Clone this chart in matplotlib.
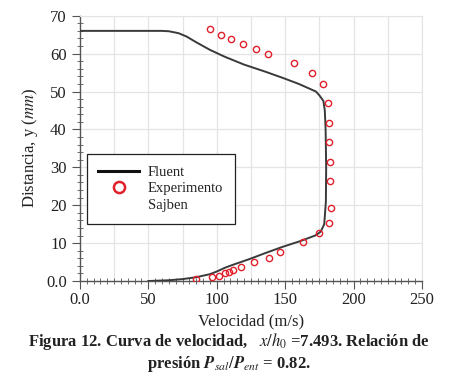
import matplotlib
matplotlib.use("Agg")
import matplotlib.pyplot as plt
from matplotlib.lines import Line2D
from matplotlib.ticker import MultipleLocator, FixedLocator, FixedFormatter

plt.rcParams['font.family'] = ['Liberation Serif', 'DejaVu Serif']
plt.rcParams['mathtext.fontset'] = 'stix'

# Fluent simulation profile (velocity m/s, distance mm)
fluent_v = [50, 65, 75, 85, 95, 100, 106, 112, 124, 135, 148, 160, 172, 176, 178.6,
            179.8, 180, 179.6, 179, 178, 175, 172.5, 160, 149, 135, 120, 105.7, 95,
            85, 78, 72, 65, 60, 0]
fluent_y = [0, 0.2, 0.5, 1.0, 1.8, 2.5, 3.5, 4.3, 5.8, 7.3, 9.0, 10.4, 12.0, 13.0, 15,
            21, 30, 40, 45, 47.5, 49, 50, 52, 53.5, 55.3, 57.1, 59.2, 61, 63, 64.5,
            65.4, 65.9, 66, 66]

# Sajben experiment
exp_v = [85, 96.4, 101.3, 105.7, 109.3, 111.8, 117.8, 127.6, 138, 146.5, 163, 174.9,
         182.2, 183.9, 183, 182.7, 182.2, 182.2, 181.7, 177.8, 169.6, 156.7, 137.8,
         128.8, 119.5, 110.5, 102.8, 95.3]
exp_y = [0.5, 1.0, 1.4, 2.0, 2.5, 2.9, 3.6, 5.1, 6.2, 7.6, 10.2, 12.6, 15.4, 19.3,
         26.4, 31.4, 36.7, 41.8, 47.1, 52.1, 54.8, 57.4, 59.9, 61.1, 62.5, 63.8, 65.0, 66.4]

xticks = [0, 50, 100, 150, 200, 250]
xticklabels = ['0.0', '50', '100', '150', '200', '250']
yticks = [0, 10, 20, 30, 40, 50, 60, 70]
yticklabels = ['0.0', '10', '20', '30', '40', '50', '60', '70']

fig = plt.figure(figsize=(4.49, 3.89), dpi=100)
ax = fig.add_axes([0.178, 0.2776, 0.7617, 0.682])

ax.plot(fluent_v, fluent_y, color='#3a3a3a', lw=1.4, zorder=3)
ax.plot(exp_v, exp_y, ls='none', marker='o', ms=4.5, mfc='none', mec='#e0202a',
        mew=1.0, zorder=4)

ax.set_xlim(0, 250)
ax.set_ylim(0, 70)
ax.xaxis.set_major_locator(FixedLocator(xticks))
ax.xaxis.set_major_formatter(FixedFormatter(xticklabels))
ax.yaxis.set_major_locator(FixedLocator(yticks))
ax.yaxis.set_major_formatter(FixedFormatter(yticklabels))
ax.xaxis.set_minor_locator(MultipleLocator(5))
ax.yaxis.set_minor_locator(MultipleLocator(2))

# grid every 25 in x, every 10 in y
for gx in range(25, 251, 25):
    ax.axvline(gx, color='#e4e4e4', lw=0.9, zorder=0)
for gy in range(10, 71, 10):
    ax.axhline(gy, color='#e4e4e4', lw=0.9, zorder=0)

for s in ['top', 'right']:
    ax.spines[s].set_color('#e4e4e4')
for s in ['left', 'bottom']:
    ax.spines[s].set_color('#555555')
    ax.spines[s].set_linewidth(1.0)

ax.tick_params(which='major', direction='out', length=6, width=0.8, color='#555555',
               labelsize=12, labelcolor='#222222', top=False, right=False)
ax.tick_params(which='minor', direction='inout', length=4, width=0.6, color='#555555',
               top=False, right=False)
ax.tick_params(axis='x', which='major', pad=2)

ax.set_xlabel('Velocidad (m/s)', fontsize=12, color='#222222', labelpad=4)
ax.set_ylabel('Distancia, y ($\\mathit{mm}$)', fontsize=12, color='#222222', labelpad=4)

handles = [
    Line2D([], [], color='#111111', lw=2.2),
    Line2D([], [], ls='none', marker='o', ms=8, mfc='none', mec='#e0202a', mew=1.8),
    Line2D([], [], ls='none'),
]
labels = ['Fluent', 'Experimento', 'Sajben']
leg = ax.legend(handles, labels, loc='upper left', bbox_to_anchor=(0.02, 0.478),
                fontsize=10.5, handlelength=2.8, frameon=True, fancybox=False,
                borderpad=0.8, labelspacing=0.22, handletextpad=0.6, borderaxespad=0)
leg.get_frame().set_edgecolor('#222222')
leg.get_frame().set_linewidth(0.9)
leg.get_frame().set_alpha(1)
for t in leg.get_texts():
    t.set_color('#222222')

fig.text(0.51, 0.123,
         'Figura 12. Curva de velocidad,   $x/h_0$ =7.493. Relación de',
         ha='center', va='center', fontsize=12, fontweight='bold', color='#222222')
fig.text(0.51, 0.064,
         'presión $\\mathbfit{P}_{\\mathit{sal}}/\\mathbfit{P}_{\\mathit{ent}}$ = 0.82.',
         ha='center', va='center', fontsize=12, fontweight='bold', color='#222222')

fig.savefig('out.png', dpi=100)
